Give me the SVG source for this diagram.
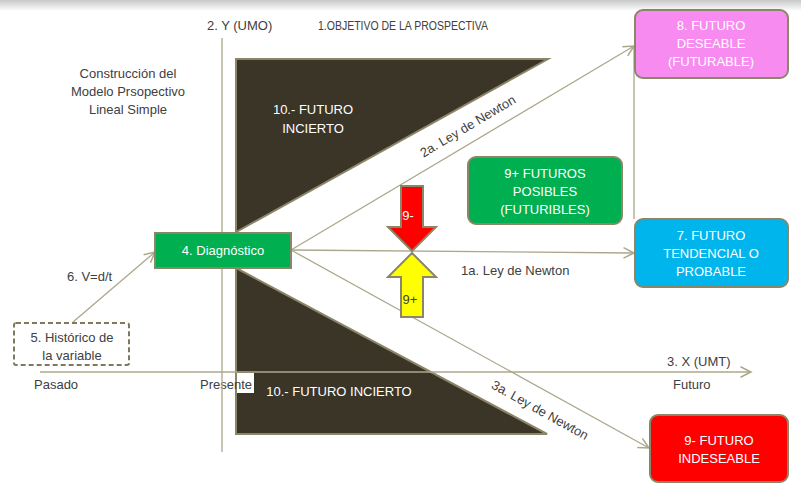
<svg xmlns="http://www.w3.org/2000/svg" width="801" height="493" viewBox="0 0 801 493">
<style>
  .t{font-family:"Liberation Sans",Arial,sans-serif;font-size:13px;fill:#404040}
  .w{font-family:"Liberation Sans",Arial,sans-serif;font-size:13px;fill:#ffffff;text-anchor:middle}
  .c{text-anchor:middle}
  .ln{stroke:#aca78c;stroke-width:1.3;fill:none}
  .tri{fill:#3b3528;stroke:#8c8669;stroke-width:2}
  .box{stroke:#8c8669;stroke-width:2}
</style>
<defs>
  <linearGradient id="top" x1="0" y1="0" x2="0" y2="1">
    <stop offset="0" stop-color="#c8c8c8"/>
    <stop offset="1" stop-color="#ffffff"/>
  </linearGradient>
  <marker id="ah" markerUnits="userSpaceOnUse" markerWidth="14" markerHeight="14" refX="10" refY="5" orient="auto" viewBox="0 0 12 10">
    <path d="M1,0.5 L10,5 L1,9.5" fill="none" stroke="#aca78c" stroke-width="1.3"/>
  </marker>
</defs>
<rect x="0" y="0" width="801" height="493" fill="#ffffff"/>
<rect x="0" y="0" width="801" height="11" fill="url(#top)"/>

<g id="incierto-top">
  <polygon class="tri" points="236,59 548,59 236,232"/>
  <text class="w" x="313" y="114">10.- FUTURO</text>
  <text class="w" x="313" y="133">INCIERTO</text>
</g>
<g id="incierto-bottom">
  <polygon class="tri" points="236,268 236,434 547,434"/>
  <text class="w" x="339" y="396">10.- FUTURO INCIERTO</text>
</g>

<g id="presente">
  <rect x="237" y="373" width="17" height="20" fill="#ffffff"/>
  <text class="t" x="200" y="389">Presente</text>
</g>

<g id="connectors">
  <line class="ln" x1="222" y1="38" x2="222" y2="452"/>
  <line class="ln" x1="40" y1="372" x2="751" y2="372" marker-end="url(#ah)"/>
  <line class="ln" x1="634" y1="46" x2="634" y2="219"/>
  <line class="ln" x1="291" y1="250" x2="634" y2="46" marker-end="url(#ah)"/>
  <line class="ln" x1="291" y1="250" x2="634" y2="253" marker-end="url(#ah)"/>
  <line class="ln" x1="291" y1="250" x2="649" y2="448" marker-end="url(#ah)"/>
  <line class="ln" x1="73" y1="322" x2="155" y2="252" marker-end="url(#ah)"/>
</g>

<g id="labels">
  <text class="t" x="207" y="30">2.  Y (UMO)</text>
  <text class="t" x="318" y="30" textLength="170" lengthAdjust="spacingAndGlyphs" style="font-size:12.5px">1.OBJETIVO DE LA PROSPECTIVA</text>
  <text class="t c" x="128" y="78">Construcción del</text>
  <text class="t c" x="128" y="96">Modelo Prsopectivo</text>
  <text class="t c" x="128" y="114">Lineal Simple</text>
  <text class="t" x="67" y="281">6. V=d/t</text>
  <text class="t" x="34" y="389">Pasado</text>
  <text class="t" x="667" y="366">3. X (UMT)</text>
  <text class="t" x="673" y="389">Futuro</text>
  <text class="t" x="461" y="275">1a. Ley de Newton</text>
  <text class="t c" transform="translate(470,130) rotate(-30.7)" x="0" y="0">2a. Ley de Newton</text>
  <text class="t c" transform="translate(538,414) rotate(29)" x="0" y="0">3a. Ley de Newton</text>
</g>

<g id="diagnostico">
  <rect class="box" x="155" y="233" width="136" height="35" fill="#00b050"/>
  <text class="w" x="223" y="255">4. Diagnóstico</text>
</g>

<g id="historico">
  <rect x="14" y="323" width="115" height="42" rx="2" fill="#ffffff" stroke="#7f7a5e" stroke-width="2" stroke-dasharray="5,3"/>
  <text class="t c" x="72" y="342">5. Histórico de</text>
  <text class="t c" x="72" y="360">la variable</text>
</g>

<g id="deseable">
  <rect class="box" x="635" y="10" width="153" height="68" rx="8" fill="#f78bf0"/>
  <text class="w" x="711" y="30">8. FUTURO</text>
  <text class="w" x="711" y="48">DESEABLE</text>
  <text class="w" x="711" y="66">(FUTURABLE)</text>
</g>

<g id="tendencial">
  <rect class="box" x="635" y="219" width="153" height="68" rx="8" fill="#00b4ec"/>
  <text class="w" x="711" y="240">7. FUTURO</text>
  <text class="w" x="711" y="258">TENDENCIAL O</text>
  <text class="w" x="711" y="276">PROBABLE</text>
</g>

<g id="posibles">
  <rect class="box" x="468" y="157" width="154" height="67" rx="8" fill="#00b050"/>
  <text class="w" x="545" y="178">9+ FUTUROS</text>
  <text class="w" x="545" y="196">POSIBLES</text>
  <text class="w" x="545" y="214">(FUTURIBLES)</text>
</g>

<g id="indeseable">
  <rect class="box" x="650" y="415" width="138" height="67" rx="8" fill="#ff0000"/>
  <text class="w" x="719" y="445">9- FUTURO</text>
  <text class="w" x="719" y="463">INDESEABLE</text>
</g>

<g id="flecha-menos">
  <polygon points="401,186 423,186 423,227 436,227 412,251 388,227 401,227" fill="#ff0000" stroke="#8c8669" stroke-width="2"/>
  <text x="408" y="220" style="font-family:'Liberation Sans',Arial,sans-serif;font-size:13px;fill:#ffffff" text-anchor="middle">9-</text>
</g>
<g id="flecha-mas">
  <polygon points="412,253 436,277 423,277 423,317 401,317 401,277 388,277" fill="#ffff00" stroke="#8c8669" stroke-width="2"/>
  <text x="410" y="304" style="font-family:'Liberation Sans',Arial,sans-serif;font-size:13px;fill:#404040" text-anchor="middle">9+</text>
</g>
</svg>
